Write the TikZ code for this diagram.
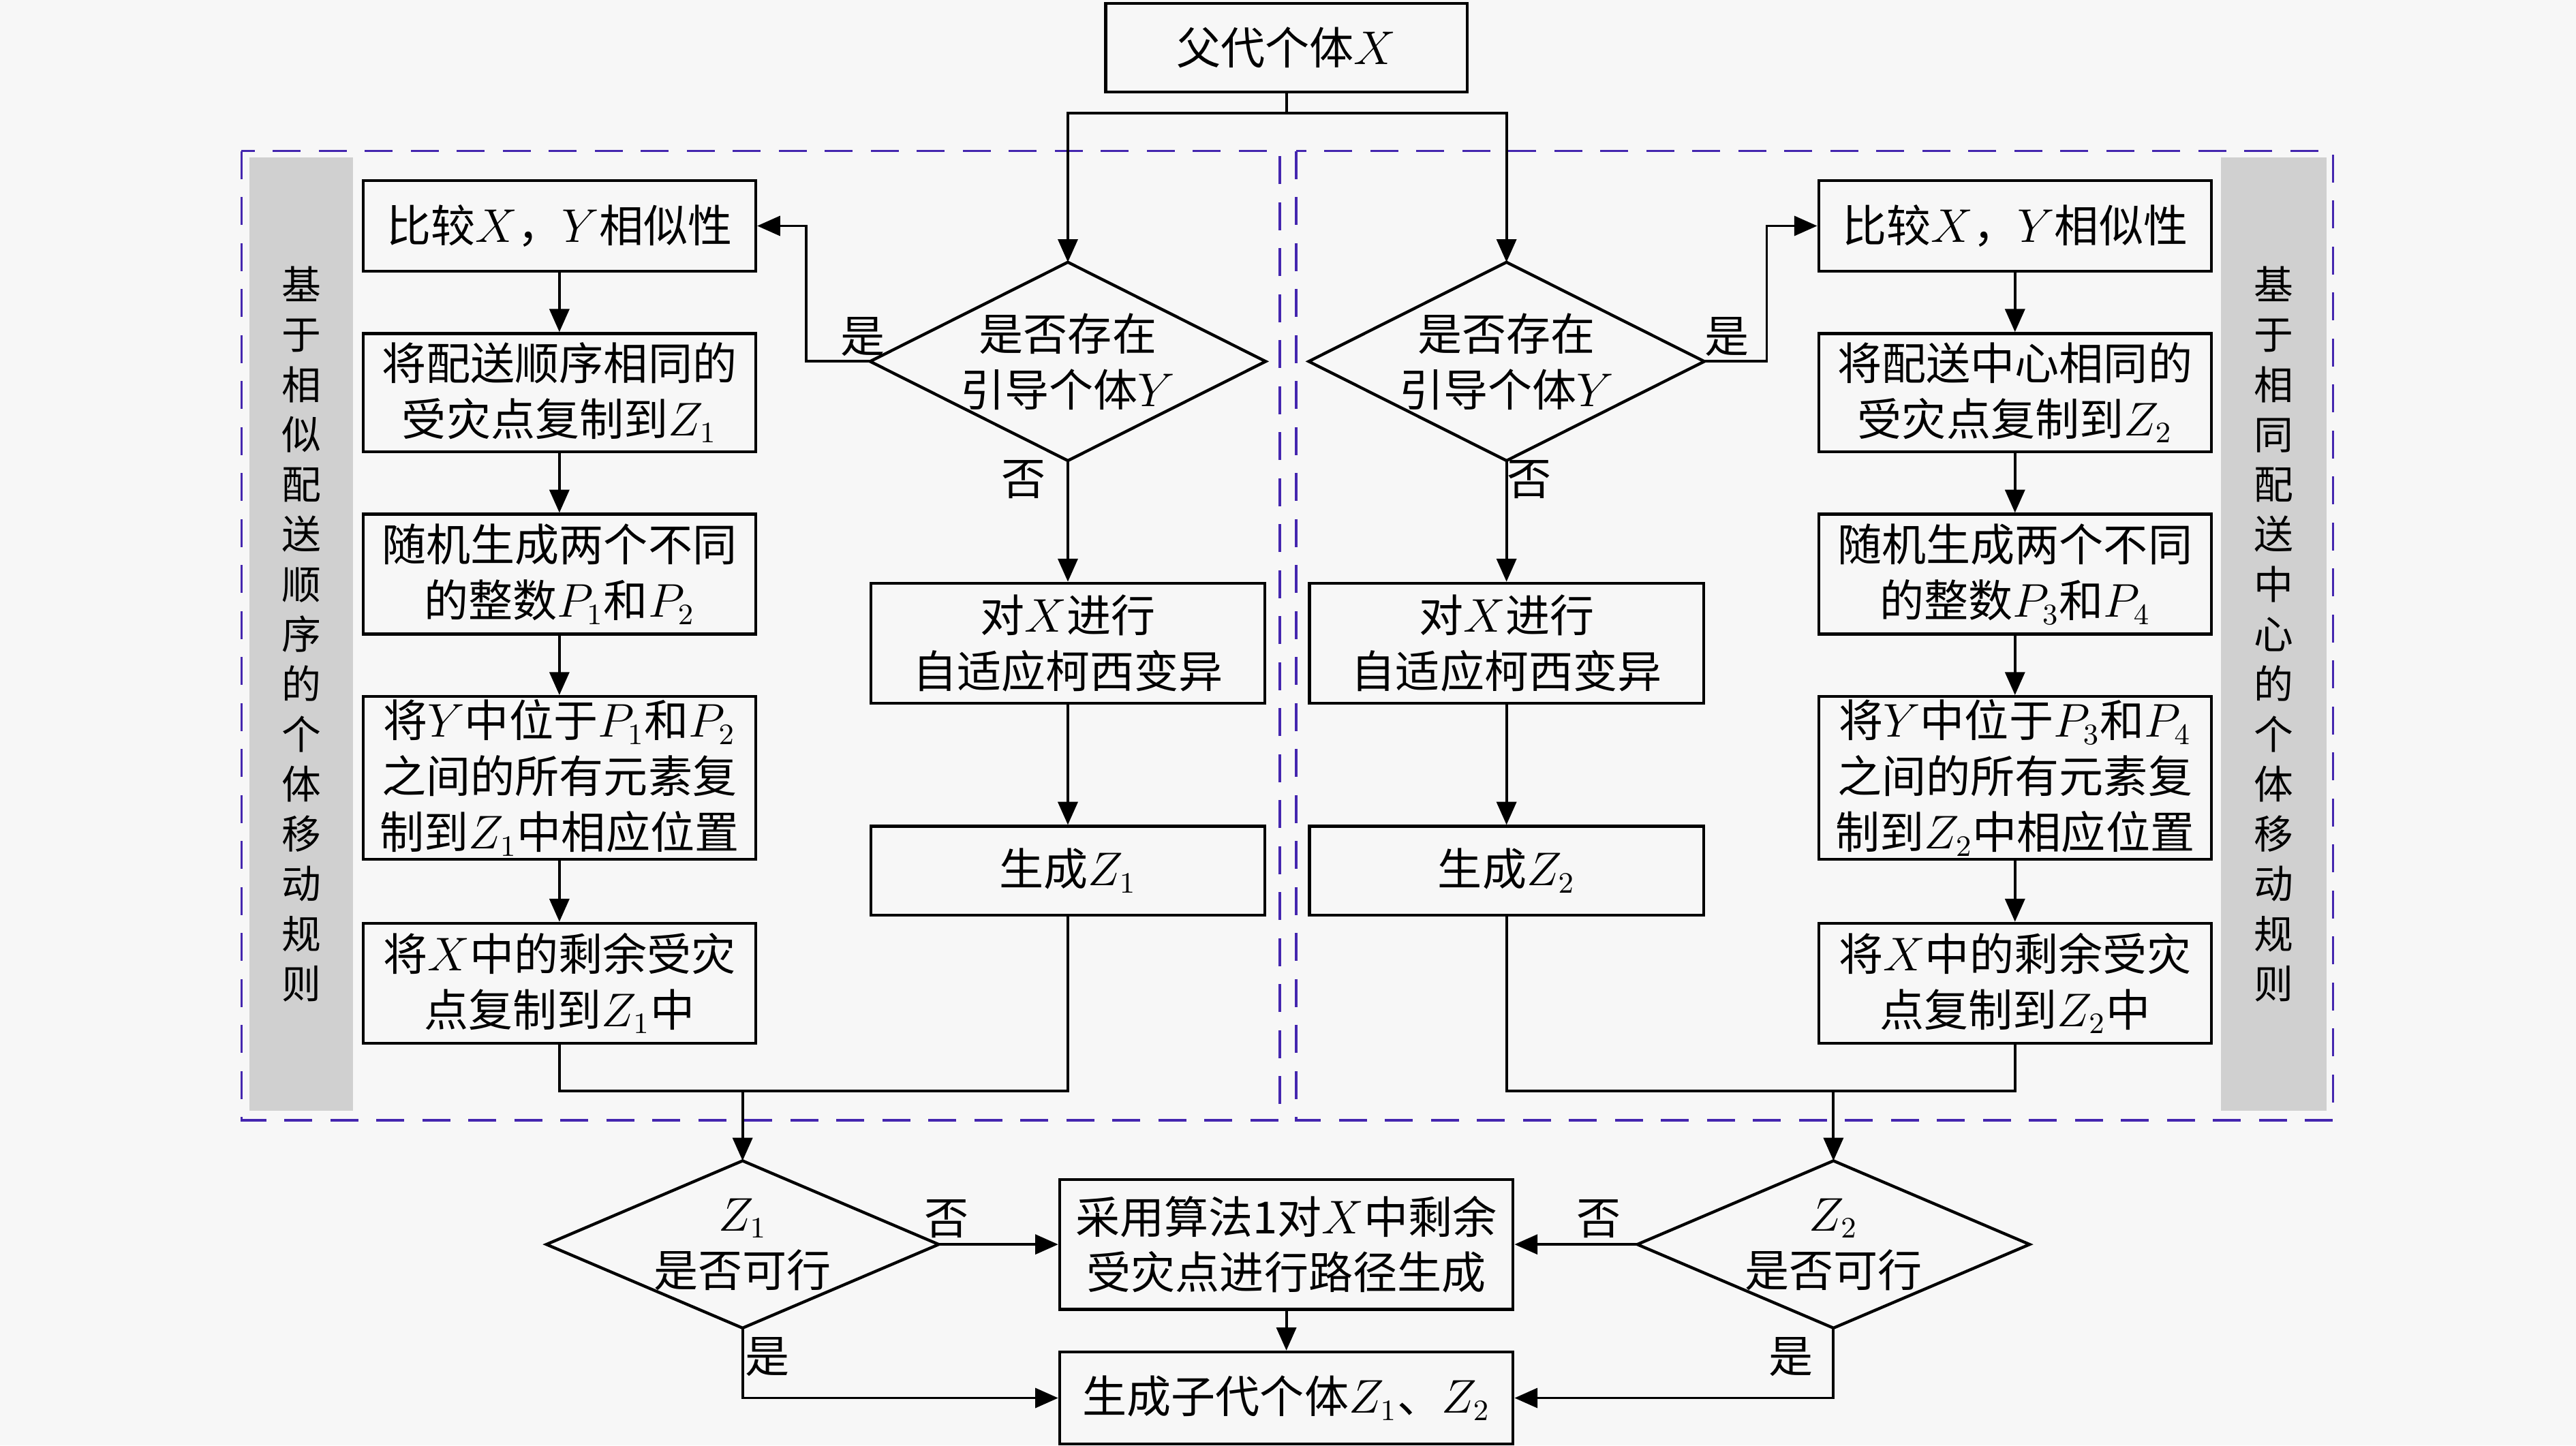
\documentclass[tikz,border=0pt]{standalone}
\usepackage{fontspec}
\setmainfont{Liberation Serif}
\newfontfamily\cjk{Noto Sans CJK SC}
\usetikzlibrary{arrows.meta}
\definecolor{bgc}{RGB}{247,247,247}
\definecolor{barc}{RGB}{208,208,208}
\definecolor{dashc}{RGB}{68,38,175}
\begin{document}
\begin{tikzpicture}[x=0.5pt,y=-0.5pt,
  txt/.style={font=\cjk\fontsize{13.5}{17}\selectfont},
  box/.style={txt, draw, line width=0.9pt, align=center, inner sep=0pt},
  dmd/.style={txt, align=center, inner sep=0pt},
  ln/.style={line width=0.8pt},
  arr/.style={ln, -{Triangle[length=7pt,width=6pt]}},
  lbl/.style={txt, inner sep=0pt},
  bartxt/.style={font=\cjk\fontsize{12}{15.2}\selectfont, align=center, inner sep=0pt},
  dbox/.style={dashc, line width=0.7pt, dash pattern=on 8.5pt off 5.5pt}
]
\useasboundingbox (0,0) rectangle (1568,880);
\fill[bgc] (0,0) rectangle (1568,880);
% side bars
\fill[barc] (152,96) rectangle (215,676);
\fill[barc] (1352,96) rectangle (1416,676);
\node[bartxt] (barL) at (183.5,386) {基\\于\\相\\似\\配\\送\\顺\\序\\的\\个\\体\\移\\动\\规\\则};
\node[bartxt] (barR) at (1384,386) {基\\于\\相\\同\\配\\送\\中\\心\\的\\个\\体\\移\\动\\规\\则};
% dashed frames
\draw[dbox] (147,92) rectangle (779,682);
\draw[dbox] (789,92) rectangle (1420,682);

% top
\node[box, minimum width=110pt, minimum height=27pt] (top) at (783,29) {父代个体$X$};
\coordinate (sp) at (783,69);

% diamonds top
\node[dmd, minimum width=120pt, minimum height=60pt] (d1) at (650,220) {是否存在\\引导个体$Y$};
\draw[line width=0.9pt] (d1.north) -- (d1.east) -- (d1.south) -- (d1.west) -- cycle;
\node[dmd, minimum width=120pt, minimum height=60pt] (d2) at (917,220) {是否存在\\引导个体$Y$};
\draw[line width=0.9pt] (d2.north) -- (d2.east) -- (d2.south) -- (d2.west) -- cycle;

% left column
\node[box, minimum width=119.5pt, minimum height=27.5pt] (L1) at (340.5,137.5) {比较$X$，$Y$相似性};
\node[box, minimum width=119.5pt, minimum height=36pt] (L2) at (340.5,239) {将配送顺序相同的\\受灾点复制到$Z_1$};
\node[box, minimum width=119.5pt, minimum height=36.5pt] (L3) at (340.5,349.5) {随机生成两个不同\\的整数$P_1$和$P_2$};
\node[box, minimum width=119.5pt, minimum height=49.5pt] (L4) at (340.5,473.5) {将$Y$中位于$P_1$和$P_2$\\之间的所有元素复\\制到$Z_1$中相应位置};
\node[box, minimum width=119.5pt, minimum height=36.5pt] (L5) at (340.5,598.5) {将$X$中的剩余受灾\\点复制到$Z_1$中};

% right column
\node[box, minimum width=119.5pt, minimum height=27.5pt] (R1) at (1226.5,137.5) {比较$X$，$Y$相似性};
\node[box, minimum width=119.5pt, minimum height=36pt] (R2) at (1226.5,239) {将配送中心相同的\\受灾点复制到$Z_2$};
\node[box, minimum width=119.5pt, minimum height=36.5pt] (R3) at (1226.5,349.5) {随机生成两个不同\\的整数$P_3$和$P_4$};
\node[box, minimum width=119.5pt, minimum height=49.5pt] (R4) at (1226.5,473.5) {将$Y$中位于$P_3$和$P_4$\\之间的所有元素复\\制到$Z_2$中相应位置};
\node[box, minimum width=119.5pt, minimum height=36.5pt] (R5) at (1226.5,598.5) {将$X$中的剩余受灾\\点复制到$Z_2$中};

% middle boxes
\node[box, minimum width=120pt, minimum height=36.5pt] (M1) at (650,391.5) {对$X$进行\\自适应柯西变异};
\node[box, minimum width=120pt, minimum height=27pt] (G1) at (650,530) {生成$Z_1$};
\node[box, minimum width=120pt, minimum height=36.5pt] (M2) at (917,391.5) {对$X$进行\\自适应柯西变异};
\node[box, minimum width=120pt, minimum height=27pt] (G2) at (917,530) {生成$Z_2$};

% bottom
\node[dmd, minimum width=119pt, minimum height=50.5pt] (Z1) at (452,757.5) {$Z_1$\\是否可行};
\draw[line width=0.9pt] (Z1.north) -- (Z1.east) -- (Z1.south) -- (Z1.west) -- cycle;
\node[dmd, minimum width=119pt, minimum height=50.5pt] (Z2) at (1116,757.5) {$Z_2$\\是否可行};
\draw[line width=0.9pt] (Z2.north) -- (Z2.east) -- (Z2.south) -- (Z2.west) -- cycle;
\node[box, minimum width=138pt, minimum height=39.5pt] (A) at (783,757.5) {采用算法1对$X$中剩余\\受灾点进行路径生成};
\node[box, minimum width=138pt, minimum height=28pt] (C) at (783,851) {生成子代个体$Z_1$、$Z_2$};

% connectors top
\draw[ln] (top.south) -- (sp);
\draw[arr] (sp) -| (d1.north);
\draw[arr] (sp) -| (d2.north);
\draw[arr] (d1.west) -- ++(-39,0) |- (L1.east);
\draw[arr] (d2.east) -- ++(38,0) |- (R1.west);
\draw[arr] (d1.south) -- (M1.north);
\draw[arr] (d2.south) -- (M2.north);
\draw[arr] (M1.south) -- (G1.north);
\draw[arr] (M2.south) -- (G2.north);
\foreach \a/\b in {L1/L2,L2/L3,L3/L4,L4/L5,R1/R2,R2/R3,R3/R4,R4/R5}
  \draw[arr] (\a.south) -- (\b.north);
% merges
\coordinate (j1) at (452,664);
\coordinate (j2) at (1116,664);
\draw[ln] (L5.south) |- (G1.south |- j1) -- (G1.south);
\draw[ln] (R5.south) |- (G2.south |- j2) -- (G2.south);
\draw[arr] (j1) -- (Z1.north);
\draw[arr] (j2) -- (Z2.north);
% bottom connectors
\draw[arr] (Z1.east) -- (Z1.east -| A.west);
\draw[arr] (Z2.west) -- (Z2.west -| A.east);
\draw[arr] (A.south) -- (C.north);
\draw[arr] (Z1.south) |- (C.west);
\draw[arr] (Z2.south) |- (C.east);

% labels
\node[lbl] (y1) at (525,205) {是};
\node[lbl] (n1) at (623,292) {否};
\node[lbl] (y2) at (1051,205) {是};
\node[lbl] (n2) at (931,292) {否};
\node[lbl] (n3) at (576,742) {否};
\node[lbl] (y3) at (467,826) {是};
\node[lbl] (n4) at (973,742) {否};
\node[lbl] (y4) at (1090,826) {是};
\end{tikzpicture}
\end{document}
